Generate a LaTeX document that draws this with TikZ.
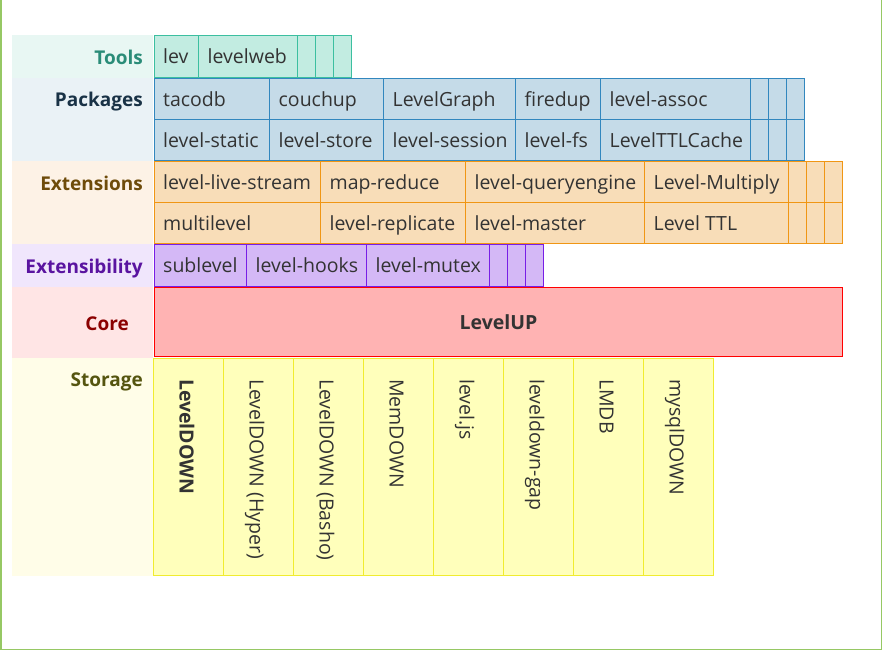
\documentclass[tikz,border=0pt]{standalone}
\usepackage{fontspec}
\setmainfont{Open Sans}
\definecolor{txtc}{HTML}{333333}
\definecolor{frame}{HTML}{96C864}
\definecolor{tlbg}{HTML}{E8F7F3}\definecolor{tltext}{HTML}{2A8C78}\definecolor{tlfill}{HTML}{C2ECE1}\definecolor{tlborder}{HTML}{3CBFA0}
\definecolor{pkbg}{HTML}{EAF2F6}\definecolor{pktext}{HTML}{193246}\definecolor{pkfill}{HTML}{C5DBE8}\definecolor{pkborder}{HTML}{3287BE}
\definecolor{exbg}{HTML}{FDF2E6}\definecolor{extext}{HTML}{6E4B0A}\definecolor{exfill}{HTML}{F8DDB8}\definecolor{exborder}{HTML}{F09614}
\definecolor{eybg}{HTML}{F0E6FC}\definecolor{eytext}{HTML}{5A14A0}\definecolor{eyfill}{HTML}{D4B8F6}\definecolor{eyborder}{HTML}{781EE6}
\definecolor{cobg}{HTML}{FFE5E5}\definecolor{cotext}{HTML}{8B0000}\definecolor{cofill}{HTML}{FFB3B3}\definecolor{coborder}{HTML}{FF0000}
\definecolor{stbg}{HTML}{FFFDE8}\definecolor{sttext}{HTML}{55550F}\definecolor{stfill}{HTML}{FFFFBB}\definecolor{stborder}{HTML}{F0EC30}
\newcommand\mkbox[6]{\node[box=#2, minimum width=#5-#3, minimum height=#6-#4] (#1) at (#3,#4) {};}
\newcommand\mkcell[7]{\mkbox{#1}{#2}{#3}{#4}{#5}{#6}\node[txt] (#1t) at (#3+9,#4+28) {#7};}
\newcommand\mkstor[4]{\mkbox{#1}{st}{#2}{358.5}{#2+70}{575.5}\node[txt, rotate=-90, #3] (#1t) at (#2+26,379) {#4};}
\begin{document}
\begin{tikzpicture}[x=1pt,y=-1pt,
  lab/.style={font=\fontsize{19}{19}\selectfont\bfseries, anchor=base east, inner sep=0pt},
  txt/.style={font=\fontsize{19.5}{19.5}\selectfont, text=txtc, anchor=base west, inner sep=0pt},
  box/.style={draw=#1border, fill=#1fill, line width=1pt, anchor=north west, inner sep=0pt, outer sep=0pt},
]
\useasboundingbox (0,0) rectangle (882,650);
\fill[white] (0,0) rectangle (882,650);
% label bands
\fill[tlbg] (12,35) rectangle (153,78);
\fill[pkbg] (12,78) rectangle (153,161);
\fill[exbg] (12,161) rectangle (153,244);
\fill[eybg] (12,244) rectangle (153,287);
\fill[cobg] (12,287) rectangle (153,358);
\fill[stbg] (12,358) rectangle (153,576);
\node[lab, text=tltext] (Ltools) at (143,64.3) {Tools};
\node[lab, text=pktext] (Lpack) at (143,106.7) {Packages};
\node[lab, text=extext] (Lext) at (143,190) {Extensions};
\node[lab, text=eytext] (Lexty) at (143,273.3) {Extensibility};
\node[lab, text=cotext] (Lcore) at (129,330) {Core};
\node[lab, text=sttext] (Lstor) at (143,386.7) {Storage};
% Tools
\mkcell{lev}{tl}{154}{35.5}{198.5}{78}{lev}
\mkcell{levelweb}{tl}{198.5}{35.5}{297}{78}{levelweb}
\mkbox{ta}{tl}{297}{35.5}{315}{78}
\mkbox{tb}{tl}{315}{35.5}{333}{78}
\mkbox{tc}{tl}{333}{35.5}{351}{78}
% Packages
\mkcell{tacodb}{pk}{154}{78.5}{269.5}{119.5}{tacodb}
\mkcell{couchup}{pk}{269.5}{78.5}{383.5}{119.5}{couchup}
\mkcell{levelgraph}{pk}{383.5}{78.5}{515.5}{119.5}{LevelGraph}
\mkcell{firedup}{pk}{515.5}{78.5}{600.5}{119.5}{firedup}
\mkcell{assoc}{pk}{600.5}{78.5}{750.5}{119.5}{level-assoc}
\mkbox{pa}{pk}{750.5}{78.5}{768.5}{119.5}
\mkbox{pb}{pk}{768.5}{78.5}{786.5}{119.5}
\mkbox{pc}{pk}{786.5}{78.5}{804.5}{119.5}
\mkcell{static}{pk}{154}{119.5}{269.5}{160.5}{level-static}
\mkcell{store}{pk}{269.5}{119.5}{383.5}{160.5}{level-store}
\mkcell{session}{pk}{383.5}{119.5}{515.5}{160.5}{level-session}
\mkcell{fs}{pk}{515.5}{119.5}{600.5}{160.5}{level-fs}
\mkcell{ttlcache}{pk}{600.5}{119.5}{750.5}{160.5}{LevelTTLCache}
\mkbox{pd}{pk}{750.5}{119.5}{768.5}{160.5}
\mkbox{pe}{pk}{768.5}{119.5}{786.5}{160.5}
\mkbox{pf}{pk}{786.5}{119.5}{804.5}{160.5}
% Extensions
\mkcell{livestream}{ex}{154}{161.5}{320.5}{202.5}{level-live-stream}
\mkcell{mapreduce}{ex}{320.5}{161.5}{465.5}{202.5}{map-reduce}
\mkcell{queryengine}{ex}{465.5}{161.5}{644.5}{202.5}{level-queryengine}
\mkcell{multiply}{ex}{644.5}{161.5}{788.5}{202.5}{Level-Multiply}
\mkbox{ea}{ex}{788.5}{161.5}{806.5}{202.5}
\mkbox{eb}{ex}{806.5}{161.5}{824.5}{202.5}
\mkbox{ec}{ex}{824.5}{161.5}{842.5}{202.5}
\mkcell{multilevel}{ex}{154}{202.5}{320.5}{243.5}{multilevel}
\mkcell{replicate}{ex}{320.5}{202.5}{465.5}{243.5}{level-replicate}
\mkcell{master}{ex}{465.5}{202.5}{644.5}{243.5}{level-master}
\mkcell{ttl}{ex}{644.5}{202.5}{788.5}{243.5}{Level TTL}
\mkbox{ed}{ex}{788.5}{202.5}{806.5}{243.5}
\mkbox{ee}{ex}{806.5}{202.5}{824.5}{243.5}
\mkbox{ef}{ex}{824.5}{202.5}{842.5}{243.5}
% Extensibility
\mkcell{sublevel}{ey}{154}{244.5}{246.5}{286.5}{sublevel}
\mkcell{hooks}{ey}{246.5}{244.5}{366.5}{286.5}{level-hooks}
\mkcell{mutex}{ey}{366.5}{244.5}{489.5}{286.5}{level-mutex}
\mkbox{ya}{ey}{489.5}{244.5}{507.5}{286.5}
\mkbox{yb}{ey}{507.5}{244.5}{525.5}{286.5}
\mkbox{yc}{ey}{525.5}{244.5}{543.5}{286.5}
% Core
\mkbox{core}{co}{154}{287.5}{842.5}{356.5}
\node[txt, anchor=base, font=\fontsize{19.5}{19.5}\selectfont\bfseries] (levelup) at (498.5,329) {LevelUP};
% Storage
\mkstor{s1}{153.5}{font=\fontsize{19.5}{19.5}\selectfont\bfseries}{LevelDOWN}
\mkstor{s2}{223.5}{}{LevelDOWN (Hyper)}
\mkstor{s3}{293.5}{}{LevelDOWN (Basho)}
\mkstor{s4}{363.5}{}{MemDOWN}
\mkstor{s5}{433.5}{}{level.js}
\mkstor{s6}{503.5}{}{leveldown-gap}
\mkstor{s7}{573.5}{}{LMDB}
\mkstor{s8}{643.5}{}{mysqlDOWN}
% frame
\draw[frame, line width=1.5pt] (0.75,0) -- (0.75,649.25) -- (881.25,649.25) -- (881.25,0);
\end{tikzpicture}
\end{document}
